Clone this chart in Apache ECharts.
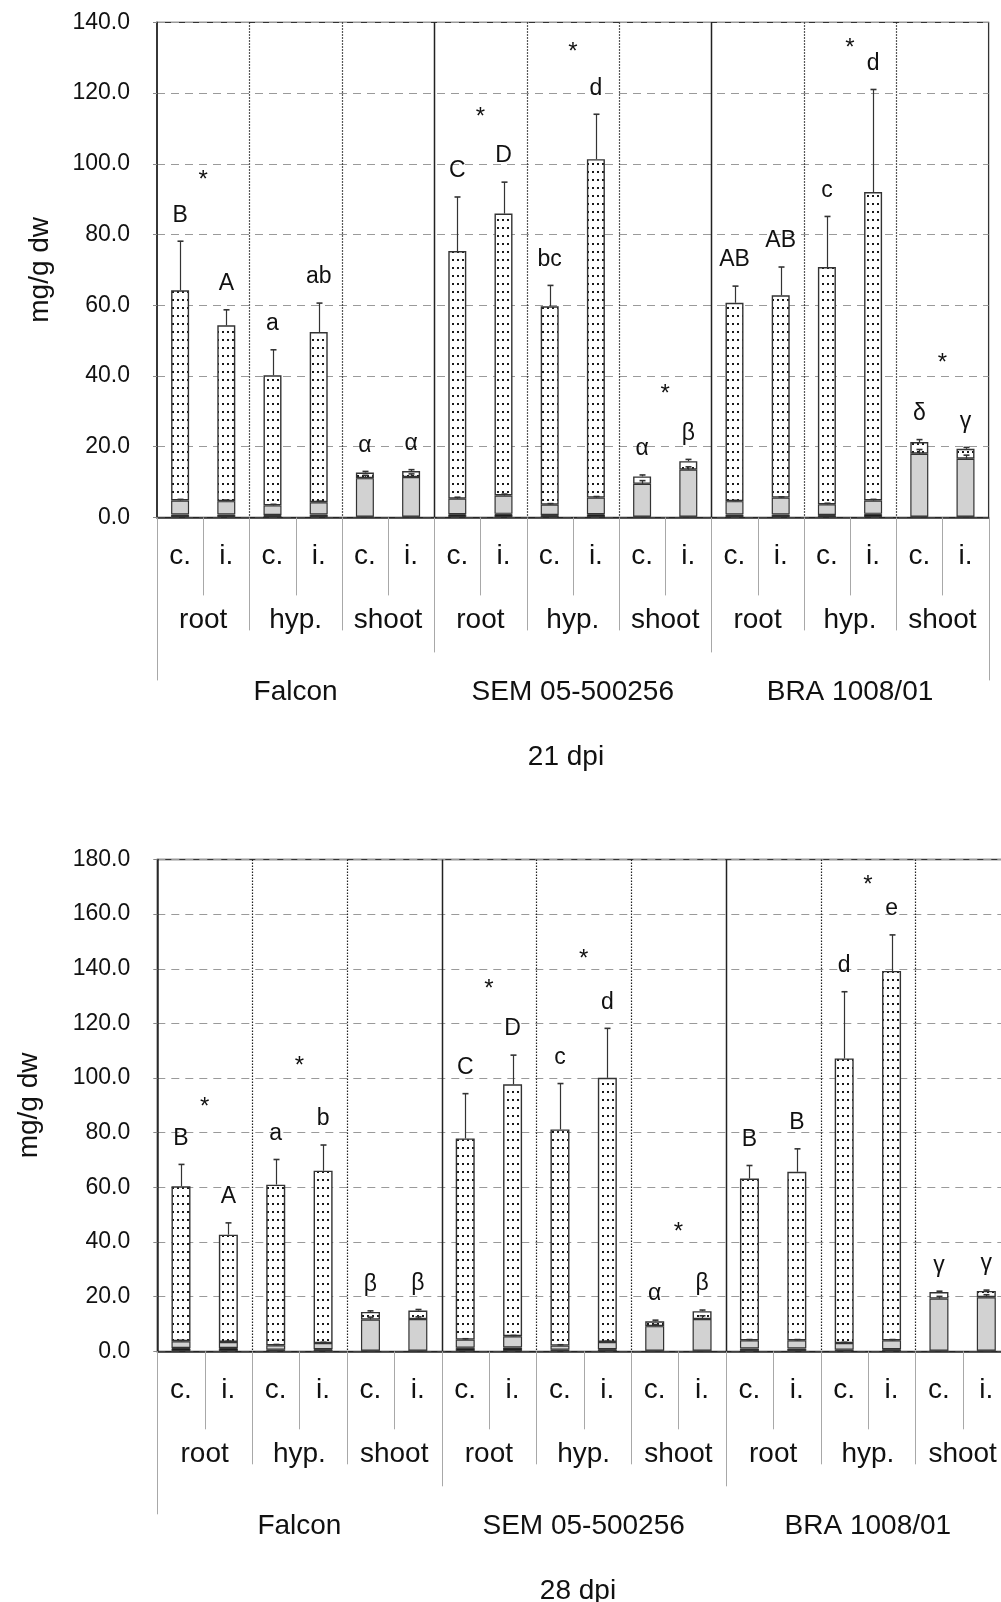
<!DOCTYPE html>
<html>
<head>
<meta charset="utf-8">
<script src="https://cdn.jsdelivr.net/npm/echarts@6/dist/echarts.min.js"></script>
<style>
  html, body { margin: 0; padding: 0; background: #fff; overflow: hidden; }
  /* the lower panel runs a little past the right edge of the page */
  #chart { width: 1012px; height: 1602px; }
</style>
</head>
<body>
<div id="chart"></div>
<script>
// ---- data -------------------------------------------------------------
const categories = ['c.', 'i.', 'c.', 'i.', 'c.', 'i.', 'c.', 'i.', 'c.', 'i.', 'c.', 'i.', 'c.', 'i.', 'c.', 'i.', 'c.', 'i.'];
const organs = ['root', 'hyp.', 'shoot'];
const cultivars = ['Falcon', 'SEM 05-500256', 'BRA 1008/01'];

// 21 dpi: three stacked components per bar (mg/g dw)
const dark21 = [0.8, 0.8, 0.7, 0.8, 0.2, 0.2, 0.9, 1.0, 0.7, 0.9, 0.2, 0.2, 0.8, 0.8, 0.7, 1.0, 0.2, 0.2];
const gray21 = [4.0, 3.8, 2.7, 3.5, 10.9, 11.2, 4.4, 5.2, 2.9, 4.7, 9.3, 13.3, 3.8, 4.8, 3.0, 3.8, 17.8, 16.4];
const dotted21 = [59.4, 49.7, 36.8, 48.1, 1.6, 1.7, 70.0, 79.7, 56.1, 95.7, 2.1, 2.4, 56.1, 57.2, 67.1, 87.2, 3.3, 2.8];
const totalSd21 = [13.9, 4.4, 7.2, 8.2, 0.3, 0.4, 15.3, 8.9, 5.9, 12.7, 0.4, 0.5, 4.7, 8.0, 14.3, 29.0, 0.7, 0.4];
const graySd21 = [0.3, 0.3, 0.3, 0.3, 0.8, 0.9, 0.4, 0.4, 0.3, 0.3, 0.9, 0.8, 0.2, 0.2, 0.3, 0.3, 1.2, 1.0];
const letters21 = ['B', 'A', 'a', 'ab', 'α', 'α', 'C', 'D', 'bc', 'd', 'α', 'β', 'AB', 'AB', 'c', 'd', 'δ', 'γ'];
const stars21 = [96.7, null, null, 114.6, 133.0, 36.1, null, 134.1, 45.1];
const yTicks21 = [0, 20, 40, 60, 80, 100, 120, 140];

// 28 dpi
const dark28 = [1.2, 1.2, 0.6, 0.8, 0.2, 0.2, 1.3, 1.4, 0.6, 0.8, 0.2, 0.2, 1.0, 1.0, 0.6, 0.8, 0.2, 0.2];
const gray28 = [2.5, 2.2, 1.6, 2.2, 11.4, 11.6, 3.0, 4.1, 1.5, 2.6, 9.0, 11.6, 3.0, 3.0, 2.4, 3.2, 19.1, 19.6];
const dotted28 = [56.7, 39.3, 58.8, 63.1, 2.8, 3.1, 73.6, 92.2, 79.1, 96.7, 1.8, 2.9, 59.2, 61.7, 104.2, 135.2, 2.4, 2.3];
const totalSd28 = [8.0, 4.3, 9.2, 9.4, 0.4, 0.4, 16.4, 10.7, 16.8, 18.1, 0.4, 0.4, 4.8, 8.4, 24.4, 13.2, 0.3, 0.3];
const graySd28 = [0.3, 0.3, 0.3, 0.3, 0.9, 0.8, 0.3, 0.3, 0.3, 0.3, 0.6, 1.2, 0.3, 0.3, 0.3, 0.3, 0.8, 0.9];
const letters28 = ['B', 'A', 'a', 'b', 'β', 'β', 'C', 'D', 'c', 'd', 'α', 'β', 'B', 'B', 'd', 'e', 'γ', 'γ'];
const stars28 = [91.0, 106.0, null, 134.3, 145.3, 45.4, null, 172.2, null];
const yTicks28 = [0, 20, 40, 60, 80, 100, 120, 140, 160, 180];

const panelTitles = ['21 dpi', '28 dpi'];

// ---- drawing helpers --------------------------------------------------
const FONT = '"Liberation Sans", Arial, sans-serif';
const INK = '#111';

// white fill with a regular grid of small black dots
const dotTile = document.createElement('canvas');
dotTile.width = 5; dotTile.height = 8;
(function () {
  const g = dotTile.getContext('2d');
  g.fillStyle = '#fff'; g.fillRect(0, 0, 5, 8);
  g.fillStyle = '#1a1a1a'; g.fillRect(2, 3, 2, 2);
})();

function sumAt(arrs, i) { return arrs.reduce((s, a) => s + a[i], 0); }

function errorItem(params, api) {
  const x = api.value(0);
  const p0 = api.coord([x, api.value(1)]);
  const p1 = api.coord([x, api.value(2)]);
  const cx = Math.round(p0[0]) + 0.5;
  return {
    type: 'group', children: [
      { type: 'line', shape: { x1: cx, y1: p0[1], x2: cx, y2: p1[1] }, style: { stroke: '#333', lineWidth: 1.2 } },
      { type: 'line', shape: { x1: cx - 3, y1: p1[1], x2: cx + 3, y2: p1[1] }, style: { stroke: '#333', lineWidth: 1.6 } }
    ]
  };
}

function makePanel(k, cfg) {
  const xi = k, yi = k;
  const stack = 'stack' + k;
  const n = categories.length;
  const tops = categories.map((_, i) => sumAt([cfg.dark, cfg.gray, cfg.dotted], i));
  const grayTops = categories.map((_, i) => cfg.dark[i] + cfg.gray[i]);
  const yMax = cfg.ticks[cfg.ticks.length - 1];

  const series = [];
  const barBase = { type: 'bar', xAxisIndex: xi, yAxisIndex: yi, stack: stack, barWidth: cfg.barWidth, silent: true };
  series.push(Object.assign({}, barBase, {
    name: 'dark' + k, data: cfg.dark,
    itemStyle: { color: '#1c1c1c', borderColor: '#333', borderWidth: 1 }
  }));
  series.push(Object.assign({}, barBase, {
    name: 'gray' + k, data: cfg.gray,
    itemStyle: { color: '#d2d2d2', borderColor: '#333', borderWidth: 1.2 }
  }));
  series.push(Object.assign({}, barBase, {
    name: 'dotted' + k, data: cfg.dotted,
    itemStyle: { color: { image: dotTile, repeat: 'repeat' }, borderColor: '#333', borderWidth: 1.4 }
  }));

  // error bars on the gray component and on the total
  series.push({
    type: 'custom', xAxisIndex: xi, yAxisIndex: yi, silent: true, z: 5,
    encode: { x: 0, y: [1, 2] },
    data: grayTops.map((v, i) => [i, v, v + cfg.graySd[i]]),
    renderItem: errorItem
  });
  series.push({
    type: 'custom', xAxisIndex: xi, yAxisIndex: yi, silent: true, z: 5,
    encode: { x: 0, y: [1, 2] },
    data: tops.map((v, i) => [i, v, v + cfg.totalSd[i]]),
    renderItem: errorItem
  });

  // significance letters above each error bar
  series.push({
    type: 'custom', xAxisIndex: xi, yAxisIndex: yi, silent: true, z: 6, clip: false,
    encode: { x: 0, y: 1 },
    data: tops.map((v, i) => [i, v + cfg.totalSd[i]]),
    renderItem: function (params, api) {
      const p = api.coord([api.value(0), api.value(1)]);
      return {
        type: 'text', x: p[0], y: p[1] - 26,
        style: { text: cfg.letters[params.dataIndex], font: '23px ' + FONT, fill: INK,
                 textAlign: 'center', textVerticalAlign: 'middle', align: 'center', verticalAlign: 'middle' }
      };
    }
  });

  // asterisks between the control and infected bar of an organ
  const starData = [];
  cfg.stars.forEach((v, g) => { if (v != null) starData.push([2 * g, v]); });
  series.push({
    type: 'custom', xAxisIndex: xi, yAxisIndex: yi, silent: true, z: 6, clip: false,
    encode: { x: 0, y: 1 },
    data: starData,
    renderItem: function (params, api) {
      const idx = api.value(0);
      const a = api.coord([idx, api.value(1)]);
      const b = api.coord([idx + 1, api.value(1)]);
      return {
        type: 'text', x: (a[0] + b[0]) / 2, y: a[1] + 5,
        style: { text: '*', font: '24px ' + FONT, fill: INK,
                 textAlign: 'center', textVerticalAlign: 'middle', align: 'center', verticalAlign: 'middle' }
      };
    }
  });

  // vertical dividers inside the plot: solid between cultivars, dotted between organs
  const dividers = [];
  for (let i = 2; i < n; i += 2) dividers.push([i, i % 6 === 0 ? 1 : 0]);
  series.push({
    type: 'custom', xAxisIndex: xi, yAxisIndex: yi, silent: true, z: 1,
    encode: { x: 0 },
    data: dividers,
    renderItem: function (params, api) {
      const idx = api.value(0);
      const bw = api.size([1, 0])[0];
      const top = api.coord([idx, yMax]);
      const bot = api.coord([idx, 0]);
      const x = Math.round(top[0] - bw / 2) + 0.5;
      const solid = api.value(1) === 1;
      return {
        type: 'line', shape: { x1: x, y1: top[1], x2: x, y2: bot[1] },
        style: solid ? { stroke: '#222', lineWidth: 1.5 } : { stroke: '#222', lineWidth: 1.2, lineDash: [1.5, 1.5] }
      };
    }
  });

  // multi-level category axis under the plot
  series.push({
    type: 'custom', xAxisIndex: xi, yAxisIndex: yi, silent: true, z: 3, clip: false,
    encode: { x: 0, y: 1 },
    data: categories.map((c, i) => [i, 0]),
    renderItem: function (params, api) {
      const idx = api.value(0);
      const p = api.coord([idx, 0]);
      const bw = api.size([1, 0])[0];
      const x = p[0], y0 = p[1];
      const left = Math.round(x - bw / 2) + 0.5;
      const kids = [];
      const txt = (t, tx, ty) => kids.push({
        type: 'text', x: tx, y: ty,
        style: { text: t, font: '28px ' + FONT, fill: INK,
                 textAlign: 'center', textVerticalAlign: 'middle', align: 'center', verticalAlign: 'middle' }
      });
      const vline = (lx, len) => kids.push({
        type: 'line', shape: { x1: lx, y1: y0, x2: lx, y2: y0 + len },
        style: { stroke: '#a8a8a8', lineWidth: 1 }
      });
      txt(categories[idx], x, y0 + 39);
      if (idx % 2 === 1) vline(left, 78);
      else if (idx % 6 !== 0) vline(left, 113);
      else vline(left, idx === 0 ? 163 : 135);
      if (idx === n - 1) vline(Math.round(x + bw / 2) + 0.5, 163);
      if (idx % 2 === 0) txt(organs[(idx / 2) % 3], x + bw / 2, y0 + 103);
      if (idx % 6 === 0) txt(cultivars[idx / 6], x + 2.5 * bw, y0 + 175);
      return { type: 'group', children: kids };
    }
  });

  return series;
}

const panels = [
  { dark: dark21, gray: gray21, dotted: dotted21, totalSd: totalSd21, graySd: graySd21,
    letters: letters21, stars: stars21, ticks: yTicks21, barWidth: 18,
    grid: { left: 157, top: 22.3, width: 831.6, height: 495.1 }, nameGap: 103, titleX: 566 },
  { dark: dark28, gray: gray28, dotted: dotted28, totalSd: totalSd28, graySd: graySd28,
    letters: letters28, stars: stars28, ticks: yTicks28, barWidth: 19,
    grid: { left: 157.3, top: 859.5, width: 852.7, height: 491.8 }, nameGap: 114, titleX: 578 }
];

const option = {
  animation: false,
  backgroundColor: '#fff',
  grid: panels.map(p => Object.assign({ show: true, borderColor: '#333', borderWidth: 1.3, backgroundColor: 'transparent' }, p.grid)),
  xAxis: panels.map((p, k) => ({
    type: 'category', gridIndex: k, data: categories,
    axisLine: { lineStyle: { color: '#222', width: 1.5 } },
    axisTick: { show: false }, axisLabel: { show: false }, splitLine: { show: false }
  })),
  yAxis: panels.map((p, k) => ({
    type: 'value', gridIndex: k, min: p.ticks[0], max: p.ticks[p.ticks.length - 1],
    interval: p.ticks[1] - p.ticks[0],
    name: 'mg/g dw', nameLocation: 'middle', nameGap: p.nameGap, nameRotate: 90,
    nameTextStyle: { fontSize: 28, fontFamily: FONT, color: INK },
    axisLine: { show: true, lineStyle: { color: '#222', width: 1.5 } },
    axisTick: { show: true, length: 4, lineStyle: { color: '#888' } },
    axisLabel: { margin: 27, fontSize: 23, fontFamily: FONT, color: INK, formatter: v => v.toFixed(1) },
    splitLine: { show: true, lineStyle: { color: '#9a9a9a', width: 1, type: [8, 6] } }
  })),
  graphic: panels.map((p, k) => ({
    type: 'text', x: p.titleX, y: p.grid.top + p.grid.height + 240,
    style: { text: panelTitles[k], font: '28px ' + FONT, fill: INK,
             textAlign: 'center', textVerticalAlign: 'middle', align: 'center', verticalAlign: 'middle' }
  })),
  series: panels.reduce((all, p, k) => all.concat(makePanel(k, p)), [])
};

const chart = echarts.init(document.getElementById('chart'), null, { renderer: 'canvas' });
chart.setOption(option);
</script>
</body>
</html>
